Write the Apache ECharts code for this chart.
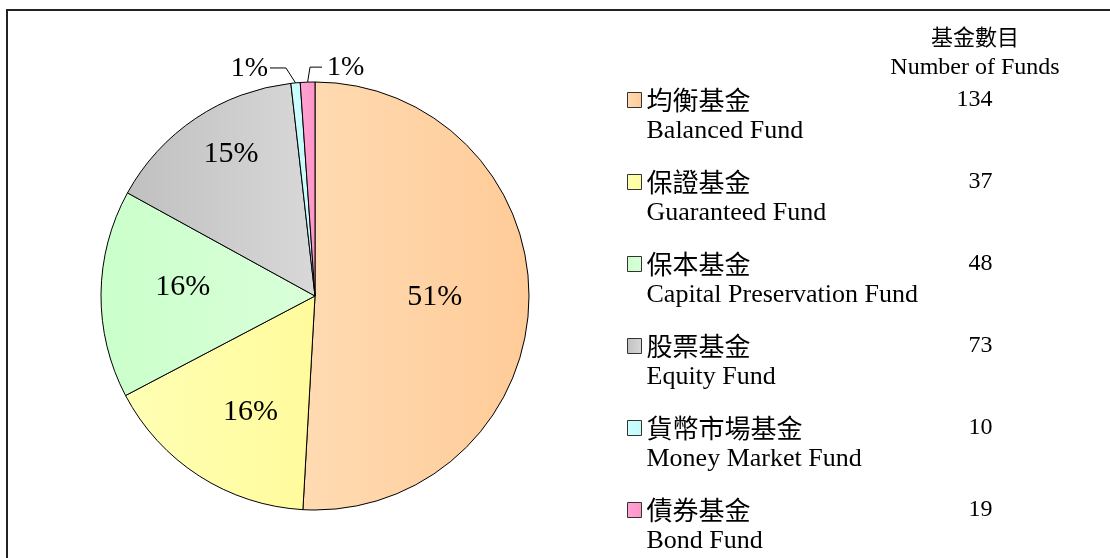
<!DOCTYPE html>
<html>
<head>
<meta charset="utf-8">
<script src="https://cdn.jsdelivr.net/npm/echarts@6/dist/echarts.min.js"></script>
<style>
html,body{margin:0;padding:0;background:#fff;}
#chart{width:1110px;height:558px;}
</style>
</head>
<body>
<div id="chart"></div>
<script>
// ---- data ----
var namesCN = ['均衡基金', '保證基金', '保本基金', '股票基金', '貨幣市場基金', '債券基金'];
var namesEN = ['Balanced Fund', 'Guaranteed Fund', 'Capital Preservation Fund', 'Equity Fund', 'Money Market Fund', 'Bond Fund'];
var shares = [50.9, 16.4, 15.7, 15.2, 0.7, 1.1];
var fundCounts = [134, 37, 48, 73, 10, 19];
var headerCN = '基金數目';
var headerEN = 'Number of Funds';

// ---- styles ----
var colorsLR = [
  ['#FFDBB2', '#FFCB98'],
  ['#FFFFB4', '#FFFB9C'],
  ['#CAFFCA', '#DAFFDA'],
  ['#C0C0C0', '#D8D8D8'],
  ['#CCFFFF', '#C4FAFA'],
  ['#FFA4D2', '#FF94C8']
];
var labelScale = [1.09, 1.22, 1.22, 1.5, 1, 1];
var labelShift = [[0, -2], [8, 3], [2, -8], [8, -5], [-8, 2], [3, 2]];
var SERIF = '"Liberation Serif", "Times New Roman", serif';
var CJK = '"Noto Sans CJK TC", sans-serif';
var CENTER = [315, 296];

function grad(c) {
  return new echarts.graphic.LinearGradient(0, 0, 1, 0, [
    {offset: 0, color: c[0]}, {offset: 1, color: c[1]}
  ]);
}

var data = namesCN.map(function (n, i) {
  var small = shares[i] < 5;
  var d = {
    name: n,
    value: shares[i],
    itemStyle: {color: grad(colorsLR[i])}
  };
  if (small) {
    d.label = {position: 'outside', fontSize: 28, distanceToLabelLine: 3};
    d.labelLine = {show: true, length: 17, length2: i === 5 ? 12 : 16, lineStyle: {color: '#000', width: 1}};
  } else {
    d.label = {position: 'inside'};
    d.labelLine = {show: false};
  }
  return d;
});

var chart = echarts.init(document.getElementById('chart'));
chart.setOption({
  backgroundColor: '#fff',
  animation: false,
  legend: {
    orient: 'vertical',
    left: 627,
    top: 64,
    padding: 0,
    itemGap: 2,
    itemWidth: 14,
    itemHeight: 15,
    icon: 'rect',
    selectedMode: false,
    itemStyle: {borderColor: '#333', borderWidth: 1},
    data: namesCN,
    formatter: function (name) {
      var i = namesCN.indexOf(name);
      return '{blank| }\n{cn|' + name + '}{num|' + fundCounts[i] + '}\n{en|' + namesEN[i] + '}';
    },
    textStyle: {
      color: '#000',
      rich: {
        blank: {fontSize: 10, lineHeight: 31},
        cn: {fontFamily: CJK, fontSize: 26, lineHeight: 31, width: 246, color: '#000'},
        num: {fontFamily: SERIF, fontSize: 24, lineHeight: 31, width: 100, align: 'right', color: '#000'},
        en: {fontFamily: SERIF, fontSize: 26, lineHeight: 31, color: '#000'}
      }
    }
  },
  graphic: [
    {type: 'rect', shape: {x: 7, y: 10, width: 1300, height: 700}, style: {fill: 'none', stroke: '#222', lineWidth: 2}, silent: true, z: 0},
    {type: 'text', x: 975, y: 37, style: {text: headerCN, font: '22px ' + CJK, fill: '#000', textAlign: 'center', textVerticalAlign: 'middle'}},
    {type: 'text', x: 975, y: 68, style: {text: headerEN, font: '24px ' + SERIF, fill: '#000', textAlign: 'center', textVerticalAlign: 'middle'}}
  ],
  series: [{
    type: 'pie',
    center: CENTER,
    radius: [0, 214],
    startAngle: 90,
    clockwise: true,
    avoidLabelOverlap: false,
    percentPrecision: 0,
    itemStyle: {borderColor: '#000', borderWidth: 1},
    label: {
      formatter: '{d}%',
      color: '#000',
      fontFamily: SERIF,
      fontSize: 30
    },
    emphasis: {disabled: true},
    labelLayout: function (p) {
      var i = p.dataIndex;
      var r = p.labelRect;
      var s = labelShift[i];
      if (shares[i] >= 5) {
        var cx = r.x + r.width / 2, cy = r.y + r.height / 2;
        var k = labelScale[i] - 1;
        return {dx: (cx - CENTER[0]) * k + s[0], dy: (cy - CENTER[1]) * k + s[1]};
      }
      if (p.labelLinePoints) {
        var pts = p.labelLinePoints.map(function (q) { return [q[0], q[1]]; });
        var p1 = [pts[1][0] + s[0], pts[1][1] + s[1]];
        var len2 = Math.abs(pts[2][0] - pts[1][0]);
        var right = i === 5;
        var p2 = [right ? p1[0] + len2 : p1[0] - len2, p1[1]];
        pts[1] = p1;
        pts[2] = p2;
        return {
          x: right ? p2[0] + 5 : p2[0] - 2,
          y: p1[1] + 1,
          align: right ? 'left' : 'right',
          verticalAlign: 'middle',
          labelLinePoints: pts
        };
      }
      return {};
    },
    data: data
  }]
});
</script>
</body>
</html>
